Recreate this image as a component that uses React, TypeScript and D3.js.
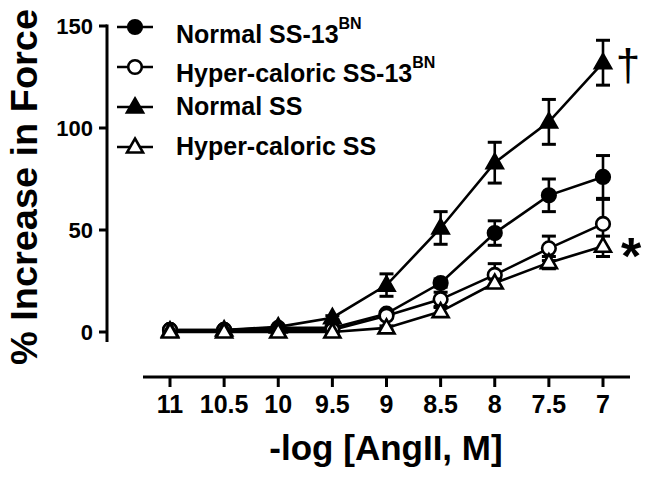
import React from "react";
import * as d3 from "d3";

const xValues = [11, 10.5, 10, 9.5, 9, 8.5, 8, 7.5, 7];
const xTickLabels = ["11", "10.5", "10", "9.5", "9", "8.5", "8", "7.5", "7"];
const yTicks = [0, 50, 100, 150];

const normalSS13 = [1, 1, 2, 2, 9, 24, 48.5, 67, 76];
const normalSS13Err = [0, 0, 0, 0, 1, 2, 6, 8, 10.5];
const hyperSS13 = [1, 1, 1, 1, 8, 16, 28, 41, 53];
const hyperSS13Err = [0, 0, 0, 0, 1, 3.5, 5.5, 6, 12];
const normalSS = [0.5, 1, 2.5, 7, 23, 51, 83, 103, 132];
const normalSSErr = [0, 0, 0, 1, 5.5, 8, 10, 11, 11];
const hyperSS = [0, 0, 0, 0, 2, 10, 24, 34, 42];
const hyperSSErr = [0, 0, 0, 0, 1, 2, 2, 3, 5];

const seriesNames = ["Normal SS-13", "Hyper-caloric SS-13", "Normal SS", "Hyper-caloric SS"];
const seriesSup = ["BN", "BN", "", ""];

type Series = { name: string; sup: string; values: number[]; errs: number[]; shape: "circle" | "triangle"; filled: boolean };

const series: Series[] = [
  { name: seriesNames[0], sup: seriesSup[0], values: normalSS13, errs: normalSS13Err, shape: "circle", filled: true },
  { name: seriesNames[1], sup: seriesSup[1], values: hyperSS13, errs: hyperSS13Err, shape: "circle", filled: false },
  { name: seriesNames[2], sup: seriesSup[2], values: normalSS, errs: normalSSErr, shape: "triangle", filled: true },
  { name: seriesNames[3], sup: seriesSup[3], values: hyperSS, errs: hyperSSErr, shape: "triangle", filled: false },
];

const FONT = "'Liberation Sans', Arial, Helvetica, sans-serif";

function Marker({ x, y, s }: { x: number; y: number; s: Series }) {
  const fill = s.filled ? "#000" : "#fff";
  if (s.shape === "circle") {
    return <circle cx={x} cy={y} r={6.8} fill={fill} stroke="#000" strokeWidth={2.6} />;
  }
  const path = `M${x},${y - 8.5} L${x + 8},${y + 5.5} L${x - 8},${y + 5.5} Z`;
  return <path d={path} fill={fill} stroke="#000" strokeWidth={2.6} strokeLinejoin="miter" />;
}

export default function App() {
  const width = 651;
  const height = 482;
  const x = d3.scaleLinear().domain([11, 7]).range([170, 603]);
  const y = d3.scaleLinear().domain([0, 150]).range([332, 26]);
  const line = d3
    .line<number>()
    .x((_, i) => x(xValues[i]))
    .y((d) => y(d));

  const legendRows = [27, 67, 107, 147];
  const legendBaselines = [43, 82, 115, 155];

  return (
    <svg
      width={width}
      height={height}
      style={{ position: "absolute", left: 0, top: 0, background: "#fff" }}
      fontFamily={FONT}
      fontWeight="bold"
    >
      <rect width={width} height={height} fill="#fff" />
      {/* Y axis */}
      <line x1={107} x2={107} y1={y(150) - 1.5} y2={342} stroke="#000" strokeWidth={3} />
      {yTicks.map((t) => (
        <g key={t}>
          <line x1={99} x2={107} y1={y(t)} y2={y(t)} stroke="#000" strokeWidth={3} />
          <text x={93} y={y(t)} dy="0.36em" textAnchor="end" fontSize={22}>
            {t}
          </text>
        </g>
      ))}
      {/* X axis */}
      <line x1={143} x2={630} y1={377} y2={377} stroke="#000" strokeWidth={3} />
      {xValues.map((v, i) => (
        <g key={v}>
          <line x1={x(v)} x2={x(v)} y1={377} y2={387} stroke="#000" strokeWidth={3} />
          <text x={x(v)} y={413} textAnchor="middle" fontSize={25}>
            {xTickLabels[i]}
          </text>
        </g>
      ))}
      <text x={386} y={460} textAnchor="middle" fontSize={35}>
        -log [AngII, M]
      </text>
      <text
        transform="translate(37,187) rotate(-90)"
        textAnchor="middle"
        fontSize={36}
        textLength={356}
        lengthAdjust="spacingAndGlyphs"
      >
        % Increase in Force
      </text>

      {/* Series */}
      {series.map((s, si) => (
        <g key={si}>
          {s.values.map((v, i) =>
            s.errs[i] > 0 ? (
              <g key={i}>
                <line x1={x(xValues[i])} x2={x(xValues[i])} y1={y(v - s.errs[i])} y2={y(v + s.errs[i])} stroke="#000" strokeWidth={2.6} />
                <line x1={x(xValues[i]) - 7} x2={x(xValues[i]) + 7} y1={y(v + s.errs[i])} y2={y(v + s.errs[i])} stroke="#000" strokeWidth={3} />
                <line x1={x(xValues[i]) - 7} x2={x(xValues[i]) + 7} y1={y(v - s.errs[i])} y2={y(v - s.errs[i])} stroke="#000" strokeWidth={3} />
              </g>
            ) : null
          )}
          <path d={line(s.values) || ""} fill="none" stroke="#000" strokeWidth={2.6} />
          {s.values.map((v, i) => (
            <Marker key={i} x={x(xValues[i])} y={y(v)} s={s} />
          ))}
        </g>
      ))}

      {/* Annotations */}
      <text x={628} y={80} textAnchor="middle" fontSize={44} fontWeight="normal">
        †
      </text>
      <text x={631} y={274} textAnchor="middle" fontSize={52}>
        *
      </text>

      {/* Legend */}
      {series.map((s, i) => (
        <g key={"leg" + i}>
          <line x1={117} x2={153} y1={legendRows[i]} y2={legendRows[i]} stroke="#000" strokeWidth={2.6} />
          <Marker x={135} y={legendRows[i]} s={s} />
          <text x={176} y={legendBaselines[i]} fontSize={25}>
            {s.name}
            {s.sup ? (
              <tspan fontSize={16} dy={-14}>
                {s.sup}
              </tspan>
            ) : null}
          </text>
        </g>
      ))}
    </svg>
  );
}
